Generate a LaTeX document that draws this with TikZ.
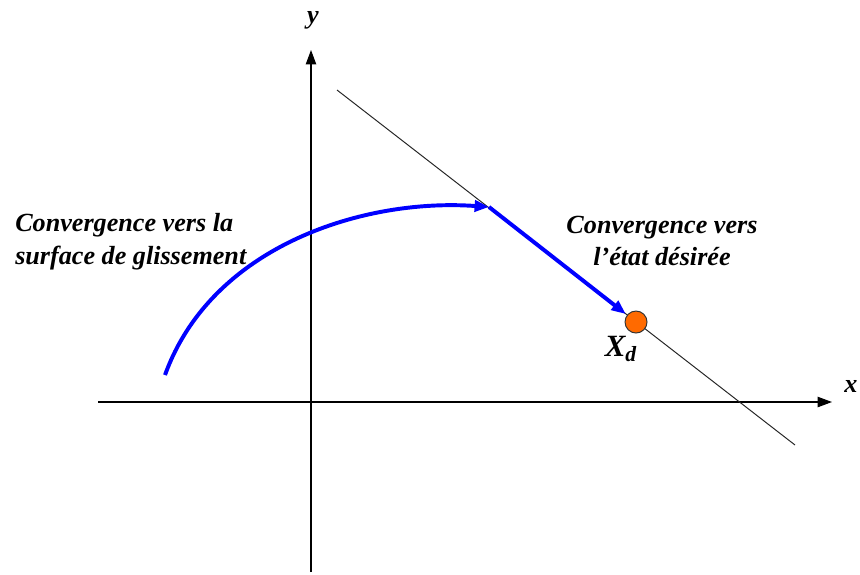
\documentclass[tikz,border=0pt]{standalone}
\usepackage{fontspec}
\setmainfont{Liberation Serif}
\usepackage{xcolor}
\usepackage{tikz}
\usetikzlibrary{arrows.meta,positioning}
\definecolor{traj}{HTML}{0000FF}
\definecolor{target}{HTML}{FF6A00}

\begin{document}
\begin{tikzpicture}[x=0.025cm,y=-0.025cm,
          every node/.style={font=\fontsize{18.6}{23.4}\selectfont\bfseries\itshape},
          axis/.style={-{Triangle[length=3.6mm,width=2.6mm]},line width=0.8pt},
          slide/.style={line width=0.7pt,black!85},
          path/.style={-{Triangle[length=3.6mm,width=2.8mm]},line width=2.8pt,traj},
          lbl/.style={align=left,inner sep=0pt},
      ]
        \useasboundingbox (0,0) rectangle (860,574);
        % axes
        \coordinate (xs) at (98,402);
        \coordinate (xe) at (832,402);
        \coordinate (ys) at (311,572);
        \coordinate (ye) at (311,50);
        \draw[axis] (xs) -- (xe);
        \draw[axis] (ys) -- (ye);
        \node (xlab) at (851,386) {x};
        \node (ylab) at (313,20) {y};
        % sliding surface
        \coordinate (sa) at (337,90);
        \coordinate (sb) at (795,445);
        \draw[slide] (sa) -- (sb);
        % trajectory
        \coordinate (start) at (165,375);
        \coordinate (hit) at (489,207);
        \node[circle,draw=black!80,line width=0.7pt,fill=target,
              minimum size=0.55cm,inner sep=0pt] (xd) at (636,322) {};
        \draw[path] (start) .. controls (212,245) and (365,198) .. (hit);
        \draw[path,shorten >=1pt] (hit) -- (xd);
        \node[font=\fontsize{22}{26}\selectfont\bfseries\itshape,
              below left=0.02cm and -0.35cm of xd] (xdlab) {X\textsubscript{d}};
        \node[lbl,anchor=west] (left) at (15,242)
          {Convergence vers la\\surface de glissement};
        \node[align=center,inner sep=0pt] (right) at (662,241)
          {Convergence vers\\l'état désirée};
      \end{tikzpicture}
\end{document}
